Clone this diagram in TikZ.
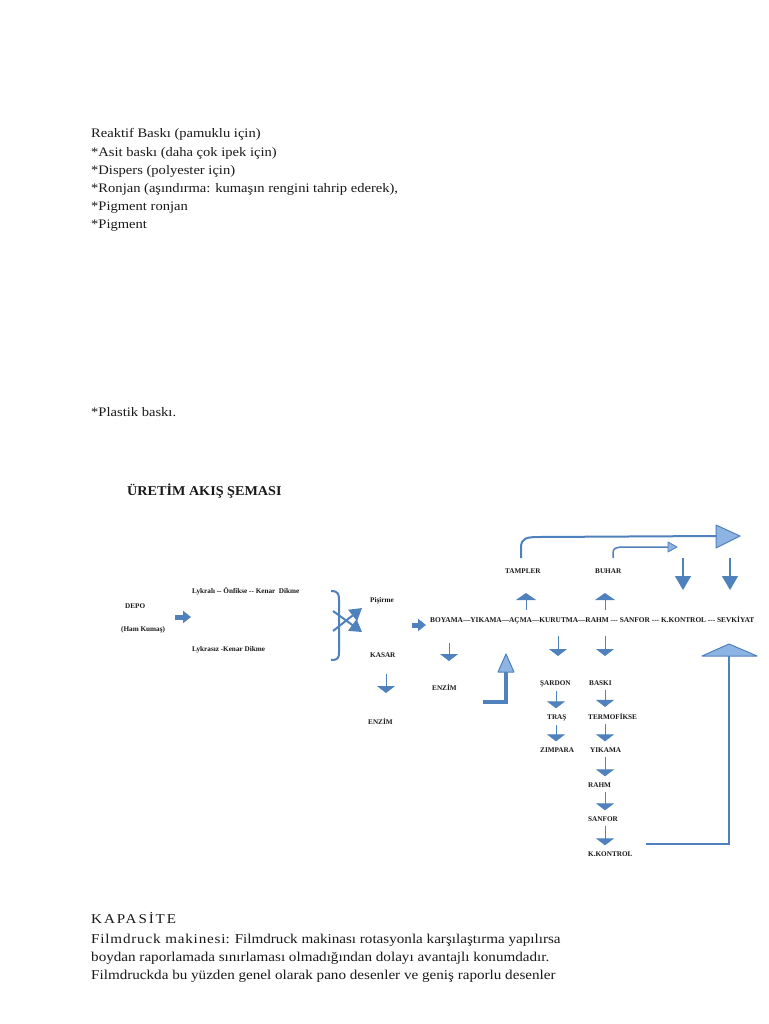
\documentclass[tikz,border=0pt]{standalone}
\usepackage{fontspec}
\setmainfont{Liberation Serif}
\newfontfamily\bodyfont[FakeStretch=1.12]{Liberation Serif}
\newfontfamily\titlefont[FakeStretch=1.05]{Liberation Serif}
\usetikzlibrary{arrows.meta}
\definecolor{ablue}{RGB}{79,129,189}
\definecolor{lblue}{RGB}{141,180,226}
\definecolor{ink}{RGB}{25,25,25}
\begin{document}
\begin{tikzpicture}[x=1pt,y=-1pt,
  body/.style={anchor=mid west,inner sep=0pt,text=ink,font=\bodyfont\fontsize{13}{15}\selectfont},
  bodyb/.style={anchor=mid west,inner sep=0pt,text=ink,font=\bodyfont\fontsize{13.5}{15}\selectfont},
  lab/.style={anchor=mid west,inner sep=0pt,text=ink,font=\bfseries\fontsize{7.2}{8}\selectfont},
  dn/.style={draw=ablue,line width=0.9pt,-{Triangle[width=18pt,length=7pt]}},
  bigdn/.style={draw=ablue,line width=1.2pt,-{Triangle[width=16pt,length=14pt]}},
  upar/.style={draw=ablue,line width=1pt,-{Triangle[width=20pt,length=7pt]}},
  fat/.style={draw=ablue,line width=5pt,-{Triangle[width=12pt,length=8pt]}},
  flow/.style={draw=ablue,line width=2pt},
  hollowhead/.style={fill=lblue,draw=ablue,line width=1pt,line join=round},
  colarrow/.style={dn,shorten <=4pt,shorten >=6pt},
]
\path[fill=white] (0,0) rectangle (768,1024);

% top text
\node[body] (t1) at (91,135) {Reaktif Baskı (pamuklu için)};
\node[body] (t2) at (91,154) {*Asit baskı (daha çok ipek için)};
\node[body] (t3) at (91,172) {*Dispers (polyester için)};
\node[body] (t4) at (91,190) {*Ronjan (aşındırma: kumaşın rengini tahrip ederek),};
\node[body] (t5) at (91,208) {*Pigment ronjan};
\node[body] (t6) at (91,226) {*Pigment};
\node[body] (t7) at (91,414) {*Plastik baskı.};

% title
\node[anchor=mid west,inner sep=0pt,text=ink,font=\titlefont\bfseries\fontsize{13.5}{15}\selectfont] (title) at (127,493) {ÜRETİM AKIŞ ŞEMASI};

% left part
\node[lab] (depo) at (125,606) {DEPO};
\node[lab] (ham) at (121,629) {(Ham Kumaş)};
\coordinate (fa1) at (175,617);
\coordinate (fa2) at (191,617);
\draw[fat] (fa1) -- (fa2);
\node[lab] (lyk) at (192,591) {Lykralı\ -{}-\ Önfikse\ -{}-\ Kenar\ \ Dikme};
\node[lab] (lyks) at (192,649) {Lykrasız -Kenar Dikme};
\draw[flow] (331,591) .. controls (338,591) and (339,594) .. (339,600) -- (339,652) .. controls (339,658) and (338,660) .. (331,660);
\coordinate (xa) at (333,611);
\coordinate (xb) at (362,632);
\coordinate (xc) at (333,631);
\coordinate (xd) at (362,608);
\draw[draw=ablue,line width=2pt,-{Triangle[width=14pt,length=12pt]}] (xa) -- (xb);
\draw[draw=ablue,line width=2pt,-{Triangle[width=14pt,length=12pt]}] (xc) -- (xd);
\node[lab] (pis) at (370,600) {Pişirme};
\node[lab] (kasar) at (370,655) {KASAR};
\draw[fat] (412,625) -- (426,625);
\coordinate (ka1) at (386,674);
\coordinate (ka2) at (386,693);
\draw[dn] (ka1) -- (ka2);
\node[lab] (enz1) at (368,722) {ENZİM};

% main line
\node[lab,font=\bfseries\fontsize{7.35}{8}\selectfont] (main) at (430,620) {BOYAMA—YIKAMA—AÇMA—KURUTMA—RAHM -{}-{}- SANFOR -{}-{}- K.KONTROL -{}-{}- SEVKİYAT};

\draw[dn] (449,643) -- (449,661);
\node[lab] (enz2) at (432,688) {ENZİM};
\draw[draw=ablue,line width=3.5pt] (483,702) -- (506,702) -- (506,670);
\draw[hollowhead] (498,672) -- (506,654) -- (514,672) -- cycle;

\draw[upar] (526,610) -- (526,593);
\draw[upar] (605,610) -- (605,593);
\node[lab] (tamp) at (505,571) {TAMPLER};
\node[lab] (buhar) at (595,571) {BUHAR};

\draw[flow] (521,558) -- (521,548) .. controls (521,538) and (526,537) .. (540,537) -- (716,536);
\draw[hollowhead] (716,525) -- (740,536) -- (716,548) -- cycle;
\draw[draw=ablue,line width=1.5pt] (613,558) -- (613,553) .. controls (613,548) and (616,547) .. (625,547) -- (668,547);
\draw[hollowhead,line width=0.8pt] (668,542) -- (677,547) -- (668,552) -- cycle;

\draw[bigdn] (683,558) -- (683,590);
\draw[bigdn] (730,558) -- (730,590);

\draw[dn] (558,636) -- (558,656);
\draw[dn] (605,636) -- (605,656);

% column 1
\coordinate (colA) at (556,0);
\node[lab] (sard) at (540,683) {ŞARDON};
\node[lab] (tras) at (547,717) {TRAŞ};
\node[lab] (zimp) at (540,750) {ZIMPARA};
\draw[colarrow] (sard.south -| colA) -- (tras.north -| colA);
\draw[colarrow] (tras.south -| colA) -- (zimp.north -| colA);

% column 2
\coordinate (colB) at (605,0);
\node[lab] (bask) at (589,683) {BASKI};
\node[lab] (term) at (588,717) {TERMOFİKSE};
\node[lab] (yik) at (590,750) {YIKAMA};
\node[lab] (rahm) at (588,785) {RAHM};
\node[lab] (sanf) at (588,819) {SANFOR};
\node[lab] (kkon) at (588,854) {K.KONTROL};
\draw[colarrow] (bask.south -| colB) -- (term.north -| colB);
\draw[colarrow] (term.south -| colB) -- (yik.north -| colB);
\draw[colarrow] (yik.south -| colB) -- (rahm.north -| colB);
\draw[colarrow] (rahm.south -| colB) -- (sanf.north -| colB);
\draw[colarrow] (sanf.south -| colB) -- (kkon.north -| colB);

% big return arrow
\draw[draw=ablue,line width=1.8pt] (646,844) -- (729,844) -- (729,655);
\draw[hollowhead] (702,656) -- (729,644) -- (757,656) -- cycle;

% bottom text
\node[bodyb] (kap) at (91,921) {\addfontfeature{LetterSpace=14}KAPASİTE};
\node[bodyb] (b1) at (91,941) {{\addfontfeature{LetterSpace=6}Filmdruck makinesi}: Filmdruck makinası rotasyonla karşılaştırma yapılırsa};
\node[bodyb] (b2) at (91,959) {boydan raporlamada sınırlaması olmadığından dolayı avantajlı konumdadır.};
\node[bodyb] (b3) at (91,977) {Filmdruckda bu yüzden genel olarak pano desenler ve geniş raporlu desenler};
\end{tikzpicture}
\end{document}
